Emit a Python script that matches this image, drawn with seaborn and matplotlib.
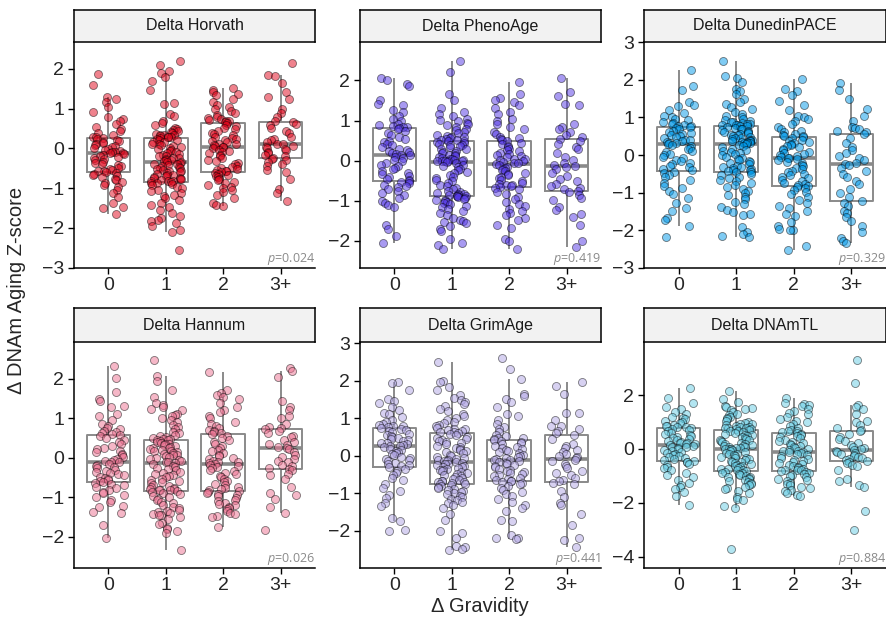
import numpy as np
import pandas as pd
import matplotlib
matplotlib.use("Agg")
import matplotlib.pyplot as plt
import seaborn as sns


# Daten: Delta-Z-Scores je Uhr und Gravidity-Gruppe

gruppen = ["0", "1", "2", "3+"]
uhren = ["Delta Horvath", "Delta PhenoAge", "Delta DunedinPACE",
         "Delta Hannum", "Delta GrimAge", "Delta DNAmTL"]
p_werte = ["0.024", "0.419", "0.329", "0.026", "0.441", "0.884"]
farben = ["#E0061C", "#5337E5", "#0099E9", "#ED7191", "#B1A5E5", "#67CDE5"]

# Horvath
horvath_0 = [1.88, 1.60, 1.30, 1.24, 1.18, 1.05, 0.92, 0.80, 0.74, 0.70, 0.62, 0.55, 0.49, 0.43, 0.38, 0.33, 0.30, 0.28,
             0.26, 0.23, 0.21, 0.19, 0.17, 0.14, 0.11, 0.08, 0.05, 0.03, 0.00, -0.02, -0.04, -0.06, -0.08, -0.09, -0.11, -0.12,
             -0.13, -0.16, -0.19, -0.21, -0.24, -0.27, -0.30, -0.33, -0.36, -0.39, -0.42, -0.45, -0.48, -0.51, -0.54, -0.56, -0.58, -0.60,
             -0.61, -0.64, -0.67, -0.70, -0.73, -0.77, -0.80, -0.84, -0.88, -0.93, -0.98, -1.04, -1.12, -1.22, -1.38, -1.47, -1.50, -1.65]
horvath_1 = [2.20, 2.10, 1.95, 1.90, 1.80, 1.70, 1.48, 1.14, 1.12, 0.86, 0.82, 0.70, 0.64, 0.58, 0.52, 0.50, 0.47, 0.44, 0.41, 0.39, 0.37, 0.35, 0.34, 0.33, 0.32, 0.30, 0.29, 0.28,
             0.27, 0.25, 0.22, 0.20, 0.17, 0.15, 0.12, 0.10, 0.08, 0.05, 0.03, 0.01, -0.02, -0.04, -0.06, -0.09, -0.11, -0.13, -0.16, -0.18, -0.20, -0.23, -0.25, -0.27, -0.29, -0.30, -0.32, -0.33,
             -0.34, -0.36, -0.38, -0.40, -0.42, -0.44, -0.46, -0.48, -0.50, -0.52, -0.54, -0.56, -0.58, -0.60, -0.62, -0.64, -0.66, -0.68, -0.70, -0.72, -0.74, -0.75, -0.77, -0.78, -0.80, -0.81, -0.82, -0.83,
             -0.84, -0.86, -0.88, -0.90, -0.93, -0.96, -1.00, -1.04, -1.08, -1.12, -1.16, -1.20, -1.25, -1.30, -1.36, -1.42, -1.48, -1.55, -1.62, -1.70, -1.76, -1.80, -1.83, -1.88, -1.95, -2.05, -2.10, -2.55]
horvath_2 = [1.52, 1.48, 1.42, 1.38, 1.35, 1.25, 1.18, 1.10, 1.05, 1.00, 0.95, 0.90, 0.85, 0.80, 0.77, 0.74, 0.72, 0.70, 0.68, 0.66,
             0.64, 0.60, 0.56, 0.52, 0.48, 0.44, 0.40, 0.37, 0.34, 0.30, 0.27, 0.24, 0.21, 0.18, 0.15, 0.12, 0.10, 0.08, 0.06, 0.04,
             0.03, 0.00, -0.03, -0.06, -0.09, -0.12, -0.16, -0.20, -0.24, -0.28, -0.32, -0.36, -0.40, -0.43, -0.46, -0.49, -0.52, -0.54, -0.56, -0.58,
             -0.60, -0.62, -0.64, -0.67, -0.70, -0.73, -0.76, -0.80, -0.84, -0.88, -0.92, -0.96, -1.00, -1.05, -1.10, -1.16, -1.25, -1.38, -1.42, -1.45]
horvath_3 = [2.15, 1.85, 1.82, 1.65, 1.42, 1.30, 1.25, 0.98, 0.90, 0.78, 0.70,
             0.66, 0.62, 0.58, 0.52, 0.45, 0.38, 0.30, 0.25, 0.20, 0.15, 0.12,
             0.10, 0.06, 0.03, 0.01, -0.02, -0.05, -0.08, -0.12, -0.16, -0.20, -0.23,
             -0.26, -0.30, -0.35, -0.40, -0.45, -0.55, -0.60, -0.78, -1.02, -1.12, -1.33]

# PhenoAge
pheno_0 = [2.05, 2.02, 1.92, 1.86, 1.50, 1.42, 1.38, 1.25, 1.20, 1.12, 1.05, 0.98, 0.92, 0.88, 0.86, 0.85, 0.83, 0.82,
           0.80, 0.75, 0.70, 0.65, 0.60, 0.55, 0.50, 0.46, 0.42, 0.38, 0.34, 0.30, 0.27, 0.24, 0.21, 0.18, 0.16, 0.14,
           0.13, 0.10, 0.06, 0.02, -0.02, -0.06, -0.10, -0.14, -0.18, -0.22, -0.26, -0.30, -0.34, -0.38, -0.42, -0.45, -0.48, -0.51,
           -0.53, -0.56, -0.60, -0.63, -0.66, -0.70, -0.75, -0.80, -0.85, -0.92, -1.00, -1.06, -1.10, -1.15, -1.60, -1.70, -1.88, -2.05]
pheno_1 = [2.48, 2.20, 1.65, 1.50, 1.32, 1.20, 1.15, 1.10, 1.05, 1.02, 0.98, 0.95, 0.92, 0.88, 0.85, 0.80, 0.76, 0.72, 0.68, 0.65, 0.62, 0.60, 0.58, 0.56, 0.54, 0.52, 0.51, 0.50,
           0.48, 0.46, 0.44, 0.42, 0.40, 0.38, 0.36, 0.33, 0.30, 0.28, 0.25, 0.22, 0.20, 0.18, 0.15, 0.13, 0.11, 0.09, 0.07, 0.05, 0.03, 0.02, 0.01, 0.00, 0.00, -0.01, -0.01, -0.02,
           -0.04, -0.07, -0.10, -0.13, -0.16, -0.20, -0.24, -0.28, -0.32, -0.36, -0.40, -0.44, -0.48, -0.52, -0.56, -0.60, -0.64, -0.68, -0.72, -0.75, -0.78, -0.80, -0.82, -0.84, -0.85, -0.86, -0.87, -0.88,
           -0.89, -0.91, -0.93, -0.95, -0.97, -0.99, -1.01, -1.03, -1.05, -1.08, -1.12, -1.16, -1.20, -1.25, -1.30, -1.36, -1.42, -1.48, -1.50, -1.52, -1.55, -1.62, -1.70, -1.75, -1.95, -2.05, -2.10, -2.20]
pheno_2 = [1.95, 1.65, 1.55, 1.50, 1.45, 1.38, 1.30, 1.22, 1.15, 1.05, 0.98, 0.92, 0.85, 0.78, 0.72, 0.66, 0.60, 0.56, 0.53, 0.51,
           0.49, 0.45, 0.41, 0.37, 0.34, 0.30, 0.27, 0.23, 0.20, 0.17, 0.14, 0.11, 0.08, 0.05, 0.03, 0.01, -0.02, -0.04, -0.06, -0.07,
           -0.09, -0.12, -0.15, -0.18, -0.21, -0.24, -0.27, -0.30, -0.33, -0.36, -0.40, -0.44, -0.48, -0.52, -0.55, -0.58, -0.60, -0.62, -0.64, -0.66,
           -0.68, -0.72, -0.78, -0.84, -0.90, -0.96, -1.02, -1.08, -1.14, -1.20, -1.25, -1.30, -1.36, -1.42, -1.48, -1.60, -1.68, -1.95, -2.00, -2.20]
pheno_3 = [2.05, 1.70, 1.62, 1.40, 1.38, 0.92, 0.85, 0.78, 0.72, 0.65, 0.58,
           0.54, 0.48, 0.42, 0.35, 0.28, 0.18, 0.10, 0.02, -0.05, -0.10, -0.13,
           -0.15, -0.22, -0.30, -0.38, -0.45, -0.52, -0.58, -0.64, -0.68, -0.72, -0.75,
           -0.78, -0.85, -0.92, -0.98, -1.15, -1.22, -1.32, -1.40, -1.60, -2.00, -2.15]

# DunedinPACE
dunedin_0 = [2.27, 1.85, 1.72, 1.40, 1.32, 1.30, 1.20, 1.12, 1.05, 1.00, 0.96, 0.92, 0.88, 0.85, 0.82, 0.80, 0.78, 0.76,
             0.74, 0.71, 0.68, 0.65, 0.62, 0.59, 0.56, 0.53, 0.50, 0.47, 0.44, 0.41, 0.39, 0.37, 0.35, 0.33, 0.31, 0.29,
             0.27, 0.23, 0.19, 0.15, 0.11, 0.07, 0.03, -0.01, -0.05, -0.09, -0.13, -0.17, -0.21, -0.25, -0.29, -0.33, -0.37, -0.41,
             -0.44, -0.48, -0.52, -0.58, -0.66, -0.75, -0.82, -0.88, -0.95, -1.05, -1.15, -1.28, -1.40, -1.50, -1.68, -1.72, -1.88, -2.17]
dunedin_1 = [2.50, 2.10, 2.05, 1.95, 1.75, 1.70, 1.62, 1.50, 1.42, 1.35, 1.28, 1.22, 1.15, 1.10, 1.05, 1.00, 0.97, 0.94, 0.91, 0.89, 0.87, 0.85, 0.83, 0.82, 0.81, 0.80, 0.79, 0.78,
             0.76, 0.74, 0.72, 0.70, 0.68, 0.66, 0.64, 0.62, 0.60, 0.58, 0.56, 0.54, 0.52, 0.50, 0.48, 0.46, 0.44, 0.42, 0.40, 0.39, 0.38, 0.37, 0.36, 0.35, 0.34, 0.33, 0.32, 0.31,
             0.29, 0.26, 0.23, 0.20, 0.17, 0.14, 0.11, 0.08, 0.05, 0.02, -0.01, -0.04, -0.07, -0.10, -0.13, -0.16, -0.19, -0.22, -0.25, -0.28, -0.31, -0.33, -0.35, -0.37, -0.39, -0.41, -0.42, -0.44,
             -0.46, -0.50, -0.54, -0.58, -0.62, -0.66, -0.70, -0.75, -0.80, -0.85, -0.90, -0.95, -1.00, -1.06, -1.12, -1.18, -1.24, -1.30, -1.38, -1.46, -1.52, -1.56, -1.60, -1.92, -2.05, -2.10, -2.15, -2.17]
dunedin_2 = [2.02, 1.75, 1.70, 1.60, 1.45, 1.32, 1.20, 1.05, 1.00, 0.95, 0.90, 0.82, 0.75, 0.70, 0.65, 0.60, 0.56, 0.53, 0.51, 0.50,
             0.47, 0.44, 0.41, 0.38, 0.35, 0.32, 0.29, 0.26, 0.23, 0.20, 0.16, 0.12, 0.08, 0.05, 0.02, -0.01, -0.03, -0.05, -0.07, -0.08,
             -0.10, -0.14, -0.18, -0.22, -0.26, -0.30, -0.34, -0.38, -0.42, -0.46, -0.50, -0.54, -0.58, -0.62, -0.66, -0.70, -0.74, -0.77, -0.80, -0.82,
             -0.84, -0.88, -0.92, -0.98, -1.05, -1.12, -1.20, -1.28, -1.35, -1.42, -1.50, -1.56, -1.62, -1.78, -1.90, -1.98, -2.00, -2.00, -2.42, -2.53]
dunedin_3 = [1.92, 1.72, 1.50, 1.22, 1.05, 0.90, 0.75, 0.72, 0.68, 0.65, 0.62,
             0.55, 0.45, 0.32, 0.20, 0.12, 0.05, -0.02, -0.08, -0.14, -0.20, -0.24,
             -0.26, -0.35, -0.42, -0.50, -0.58, -0.68, -0.78, -0.90, -1.00, -1.12, -1.22,
             -1.28, -1.35, -1.50, -1.55, -1.65, -1.75, -1.88, -2.05, -2.20, -2.30, -2.35]

# Hannum
hannum_0 = [2.33, 2.02, 1.68, 1.50, 1.45, 1.32, 1.28, 1.12, 1.05, 0.95, 0.85, 0.80, 0.75, 0.72, 0.68, 0.65, 0.63, 0.61,
            0.58, 0.54, 0.50, 0.45, 0.40, 0.35, 0.30, 0.26, 0.22, 0.18, 0.14, 0.10, 0.06, 0.02, -0.02, -0.05, -0.08, -0.10,
            -0.12, -0.15, -0.18, -0.21, -0.24, -0.27, -0.30, -0.33, -0.36, -0.39, -0.42, -0.45, -0.48, -0.51, -0.54, -0.57, -0.60, -0.62,
            -0.64, -0.67, -0.70, -0.74, -0.78, -0.82, -0.86, -0.90, -0.95, -1.00, -1.08, -1.12, -1.22, -1.25, -1.38, -1.40, -1.70, -2.03]
hannum_1 = [2.48, 2.08, 1.95, 1.72, 1.55, 1.40, 1.35, 1.30, 1.25, 1.20, 1.12, 1.08, 1.05, 1.00, 0.95, 0.90, 0.84, 0.78, 0.72, 0.66, 0.62, 0.58, 0.55, 0.52, 0.50, 0.48, 0.47, 0.46,
            0.44, 0.42, 0.40, 0.38, 0.36, 0.34, 0.32, 0.30, 0.28, 0.26, 0.24, 0.22, 0.20, 0.18, 0.16, 0.14, 0.12, 0.10, 0.08, 0.06, 0.04, 0.02, 0.00, -0.02, -0.05, -0.08, -0.10, -0.12,
            -0.14, -0.17, -0.20, -0.23, -0.26, -0.29, -0.32, -0.35, -0.38, -0.41, -0.44, -0.47, -0.50, -0.53, -0.56, -0.59, -0.62, -0.65, -0.68, -0.71, -0.74, -0.77, -0.79, -0.80, -0.81, -0.82, -0.83, -0.85,
            -0.87, -0.90, -0.93, -0.96, -1.00, -1.04, -1.08, -1.12, -1.16, -1.20, -1.24, -1.28, -1.32, -1.35, -1.38, -1.40, -1.42, -1.44, -1.46, -1.50, -1.55, -1.65, -1.68, -1.78, -1.80, -1.85, -1.90, -2.33]
hannum_2 = [2.18, 1.72, 1.65, 1.60, 1.55, 1.50, 1.38, 1.30, 1.22, 1.15, 1.05, 1.00, 0.92, 0.85, 0.80, 0.75, 0.70, 0.67, 0.65, 0.63,
            0.60, 0.55, 0.50, 0.45, 0.40, 0.35, 0.30, 0.25, 0.20, 0.16, 0.12, 0.08, 0.04, 0.00, -0.04, -0.07, -0.10, -0.12, -0.14, -0.16,
            -0.18, -0.21, -0.24, -0.27, -0.30, -0.34, -0.38, -0.42, -0.46, -0.50, -0.54, -0.58, -0.62, -0.66, -0.70, -0.74, -0.78, -0.80, -0.82, -0.85,
            -0.87, -0.89, -0.92, -0.95, -0.98, -1.02, -1.06, -1.10, -1.14, -1.18, -1.20, -1.24, -1.28, -1.30, -1.35, -1.40, -1.42, -1.48, -1.50, -1.75]
hannum_3 = [2.27, 2.20, 2.05, 1.45, 1.30, 1.22, 1.05, 1.00, 0.85, 0.78, 0.75,
            0.72, 0.68, 0.62, 0.56, 0.52, 0.45, 0.40, 0.36, 0.32, 0.28, 0.26,
            0.22, 0.15, 0.08, 0.02, -0.03, -0.08, -0.12, -0.18, -0.22, -0.26, -0.29,
            -0.32, -0.42, -0.45, -0.55, -0.75, -0.90, -0.95, -1.05, -1.25, -1.40, -1.84]

# GrimAge
grim_0 = [1.95, 1.94, 1.75, 1.50, 1.45, 1.40, 1.30, 1.22, 1.15, 1.10, 1.02, 0.95, 0.90, 0.85, 0.82, 0.80, 0.78, 0.76,
          0.74, 0.71, 0.68, 0.65, 0.62, 0.59, 0.56, 0.53, 0.50, 0.47, 0.44, 0.41, 0.38, 0.35, 0.33, 0.31, 0.29, 0.27,
          0.25, 0.22, 0.19, 0.16, 0.13, 0.10, 0.07, 0.04, 0.01, -0.02, -0.05, -0.08, -0.11, -0.14, -0.18, -0.22, -0.25, -0.28,
          -0.31, -0.35, -0.40, -0.46, -0.52, -0.58, -0.65, -0.75, -0.85, -0.95, -1.05, -1.12, -1.25, -1.35, -1.65, -1.75, -1.98, -2.00]
grim_1 = [2.50, 2.00, 1.95, 1.82, 1.75, 1.62, 1.55, 1.48, 1.42, 1.38, 1.32, 1.25, 1.18, 1.10, 1.05, 1.00, 0.95, 0.90, 0.86, 0.82, 0.78, 0.75, 0.72, 0.70, 0.68, 0.66, 0.64, 0.63,
          0.60, 0.57, 0.54, 0.51, 0.48, 0.45, 0.42, 0.39, 0.36, 0.33, 0.30, 0.27, 0.24, 0.21, 0.18, 0.15, 0.12, 0.09, 0.06, 0.03, 0.00, -0.03, -0.06, -0.08, -0.10, -0.12, -0.14, -0.15,
          -0.17, -0.19, -0.21, -0.23, -0.25, -0.27, -0.29, -0.31, -0.33, -0.35, -0.37, -0.39, -0.41, -0.43, -0.45, -0.48, -0.51, -0.54, -0.57, -0.60, -0.62, -0.64, -0.66, -0.68, -0.70, -0.71, -0.72, -0.74,
          -0.76, -0.78, -0.80, -0.82, -0.85, -0.88, -0.91, -0.94, -0.97, -1.00, -1.03, -1.06, -1.10, -1.14, -1.18, -1.22, -1.26, -1.30, -1.40, -1.55, -1.70, -2.00, -2.05, -2.20, -2.40, -2.42, -2.48, -2.50]
grim_2 = [2.60, 2.30, 2.05, 1.65, 1.60, 1.50, 1.42, 1.30, 1.12, 1.05, 0.95, 0.85, 0.76, 0.70, 0.62, 0.56, 0.52, 0.48, 0.46, 0.45,
          0.42, 0.39, 0.36, 0.33, 0.30, 0.27, 0.24, 0.21, 0.18, 0.15, 0.12, 0.09, 0.06, 0.03, 0.00, -0.03, -0.06, -0.08, -0.10, -0.11,
          -0.13, -0.16, -0.19, -0.22, -0.25, -0.28, -0.31, -0.34, -0.37, -0.40, -0.43, -0.46, -0.49, -0.52, -0.55, -0.58, -0.61, -0.64, -0.66, -0.68,
          -0.70, -0.73, -0.76, -0.80, -0.85, -0.90, -0.96, -1.02, -1.08, -1.15, -1.22, -1.30, -1.38, -1.46, -1.70, -1.75, -2.10, -2.20, -2.20, -2.22]
grim_3 = [1.97, 1.85, 1.65, 1.15, 1.13, 0.95, 0.80, 0.78, 0.72, 0.65, 0.60,
          0.55, 0.45, 0.32, 0.25, 0.20, 0.15, 0.10, 0.05, 0.00, -0.04, -0.07,
          -0.10, -0.15, -0.22, -0.28, -0.32, -0.40, -0.45, -0.52, -0.58, -0.64, -0.68,
          -0.72, -0.75, -0.95, -1.10, -1.25, -1.30, -1.55, -1.85, -2.20, -2.25, -2.42]

# DNAmTL
dnamtl_0 = [2.25, 1.90, 1.70, 1.55, 1.50, 1.38, 1.30, 1.20, 1.15, 1.10, 1.05, 1.00, 0.95, 0.90, 0.86, 0.84, 0.82, 0.80,
            0.77, 0.73, 0.69, 0.65, 0.61, 0.57, 0.53, 0.49, 0.45, 0.41, 0.37, 0.33, 0.29, 0.26, 0.23, 0.21, 0.19, 0.17,
            0.15, 0.12, 0.09, 0.06, 0.03, 0.00, -0.03, -0.07, -0.11, -0.15, -0.19, -0.23, -0.27, -0.31, -0.35, -0.39, -0.42, -0.44,
            -0.47, -0.50, -0.55, -0.60, -0.66, -0.72, -0.80, -0.88, -0.96, -1.05, -1.15, -1.25, -1.35, -1.42, -1.50, -1.60, -1.75, -2.10]
dnamtl_1 = [2.17, 1.85, 1.75, 1.60, 1.55, 1.52, 1.50, 1.45, 1.38, 1.30, 1.25, 1.20, 1.15, 1.10, 1.05, 1.00, 0.97, 0.94, 0.91, 0.88, 0.85, 0.82, 0.80, 0.78, 0.77, 0.76, 0.75, 0.74,
            0.71, 0.68, 0.65, 0.62, 0.59, 0.56, 0.53, 0.50, 0.47, 0.44, 0.41, 0.38, 0.35, 0.32, 0.29, 0.26, 0.23, 0.20, 0.17, 0.14, 0.12, 0.10, 0.08, 0.06, 0.04, 0.03, 0.01, 0.00,
            -0.02, -0.05, -0.08, -0.11, -0.14, -0.17, -0.20, -0.23, -0.26, -0.29, -0.32, -0.35, -0.38, -0.41, -0.44, -0.47, -0.50, -0.53, -0.56, -0.59, -0.62, -0.65, -0.68, -0.71, -0.74, -0.76, -0.78, -0.80,
            -0.82, -0.85, -0.88, -0.91, -0.94, -0.97, -1.00, -1.03, -1.06, -1.09, -1.12, -1.15, -1.18, -1.22, -1.26, -1.30, -1.35, -1.40, -1.45, -1.50, -1.55, -1.62, -1.80, -1.85, -1.90, -2.13, -2.20, -3.73]
dnamtl_2 = [1.90, 1.72, 1.68, 1.62, 1.58, 1.50, 1.42, 1.35, 1.28, 1.20, 1.12, 1.05, 1.00, 0.92, 0.85, 0.78, 0.72, 0.68, 0.65, 0.62,
            0.59, 0.55, 0.51, 0.47, 0.43, 0.39, 0.35, 0.31, 0.27, 0.23, 0.19, 0.15, 0.11, 0.07, 0.03, -0.01, -0.04, -0.06, -0.08, -0.10,
            -0.12, -0.16, -0.20, -0.24, -0.28, -0.32, -0.36, -0.40, -0.44, -0.48, -0.52, -0.56, -0.60, -0.64, -0.68, -0.72, -0.75, -0.77, -0.79, -0.80,
            -0.82, -0.85, -0.88, -0.92, -0.96, -1.00, -1.05, -1.10, -1.15, -1.20, -1.25, -1.30, -1.35, -1.40, -1.45, -1.52, -1.58, -1.62, -1.70, -1.75]
dnamtl_3 = [3.30, 2.45, 1.65, 1.55, 1.50, 1.30, 1.05, 1.00, 0.88, 0.78, 0.70,
            0.65, 0.55, 0.45, 0.38, 0.30, 0.22, 0.15, 0.08, 0.02, -0.02, -0.04,
            -0.06, -0.10, -0.14, -0.18, -0.22, -0.26, -0.30, -0.34, -0.38, -0.42, -0.44,
            -0.47, -0.52, -0.60, -0.65, -0.80, -1.10, -1.20, -1.35, -1.40, -2.30, -3.00]

werte_je_uhr = [
    [horvath_0, horvath_1, horvath_2, horvath_3],
    [pheno_0, pheno_1, pheno_2, pheno_3],
    [dunedin_0, dunedin_1, dunedin_2, dunedin_3],
    [hannum_0, hannum_1, hannum_2, hannum_3],
    [grim_0, grim_1, grim_2, grim_3],
    [dnamtl_0, dnamtl_1, dnamtl_2, dnamtl_3],
]

# Achsenbereiche und Ticks je Panel
y_grenzen = [(-3.0, 2.67), (-2.67, 2.95), (-3.0, 3.0), (-2.79, 2.93), (-2.98, 3.02), (-4.41, 3.96)]
y_ticks = [[-3, -2, -1, 0, 1, 2], [-2, -1, 0, 1, 2], [-3, -2, -1, 0, 1, 2, 3],
           [-2, -1, 0, 1, 2], [-2, -1, 0, 1, 2, 3], [-4, -2, 0, 2]]


# Long-Format Dataframe
zeilen = []
for uhr, listen in zip(uhren, werte_je_uhr):
    for g, werte in zip(gruppen, listen):
        for v in werte:
            zeilen.append({"Uhr": uhr, "Gravidity": g, "Z": v})
df = pd.DataFrame(zeilen)


# Plot
sns.set_style("ticks")
plt.rcParams["font.family"] = ["Liberation Sans", "DejaVu Sans"]
plt.rcParams["mathtext.fontset"] = "custom"
plt.rcParams["mathtext.it"] = "Open Sans:italic"
plt.rcParams["mathtext.rm"] = "Open Sans"

W, H = 887, 623
fig = plt.figure(figsize=(W / 100, H / 100), dpi=100)


def box(x0, y0, x1, y1):
    return [x0 / W, 1 - y1 / H, (x1 - x0) / W, (y1 - y0) / H]


spalten = [(74, 315), (360, 601), (644, 886)]
zeilen_px = [((9.7, 42.3), (42.3, 267.7)), ((308.3, 342.3), (342.3, 567.7))]

np.random.seed(11)
for i, uhr in enumerate(uhren):
    r, c = divmod(i, 3)
    x0, x1 = spalten[c]
    (s0, s1), (a0, a1) = zeilen_px[r]
    ax = fig.add_axes(box(x0, a0, x1, a1))
    sub = df[df["Uhr"] == uhr]

    sns.boxplot(data=sub, x="Gravidity", y="Z", order=gruppen, ax=ax,
                fill=False, color="#8a8a8a", width=0.76, linewidth=1.4,
                showfliers=False, showcaps=False,
                medianprops={"linewidth": 2.6, "color": "#8a8a8a"})
    sns.stripplot(data=sub, x="Gravidity", y="Z", order=gruppen, ax=ax,
                  jitter=0.28, size=5.8, color=farben[i], alpha=0.5,
                  edgecolor="black", linewidth=0.6, zorder=3)

    ax.set_xlim(-0.6, 3.6)
    ax.set_ylim(*y_grenzen[i])
    ax.set_yticks(y_ticks[i])
    ax.set_xlabel("")
    ax.set_ylabel("")
    ax.tick_params(labelsize=14, length=4, width=1.0, color="black", pad=3)
    for side in ["top", "right"]:
        ax.spines[side].set_visible(False)
    for side in ["left", "bottom"]:
        ax.spines[side].set_linewidth(1.1)
        ax.spines[side].set_color("black")

    ax.text(1.0, 0.004, r"$\mathit{p}$=" + p_werte[i], transform=ax.transAxes,
            ha="right", va="bottom", fontsize=9, color="#8a8a8a", family="Open Sans")

    # Streifen mit Titel
    sx = fig.add_axes(box(x0, s0, x1, s1))
    sx.set_facecolor("#F2F2F2")
    sx.set_xticks([])
    sx.set_yticks([])
    for sp in sx.spines.values():
        sp.set_visible(True)
        sp.set_color("black")
        sp.set_linewidth(1.1)
    sx.text(0.5, 0.5, uhr, ha="center", va="center", fontsize=11.5, color="#1a1a1a")

fig.text(17 / W, 1 - 290 / H, "Δ DNAm Aging Z-score", rotation=90,
         ha="center", va="center", fontsize=14.5)
fig.text(480 / W, 1 - 607 / H, "Δ Gravidity", ha="center", va="center", fontsize=14.5)

fig.savefig("out.png", dpi=100)
